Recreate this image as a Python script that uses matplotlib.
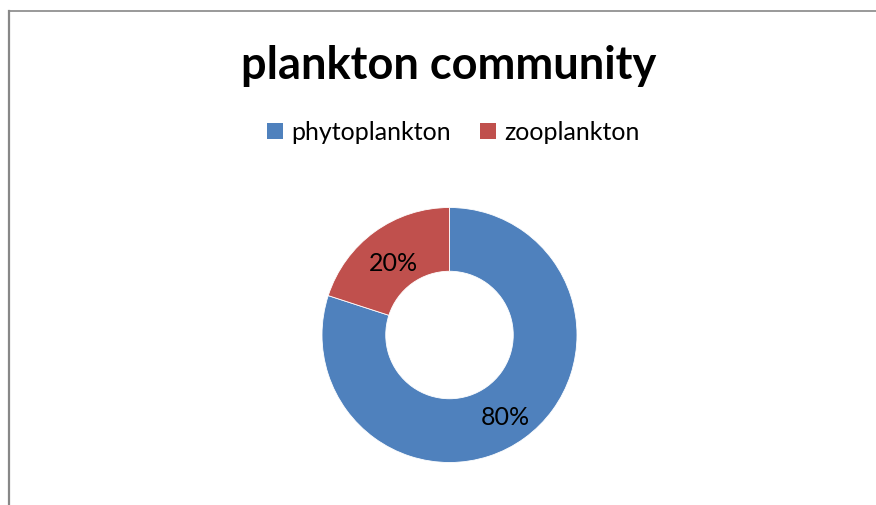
import matplotlib
matplotlib.use("Agg")
import matplotlib.pyplot as plt
from matplotlib.patches import Patch
from matplotlib.lines import Line2D

labels = ["phytoplankton", "zooplankton"]
shares = [80, 20]
colors = ["#4F81BD", "#C0504D"]
title = "plankton community"

plt.rcParams['font.family'] = ['Lato', 'DejaVu Sans']

W, H = 876, 506
fig = plt.figure(figsize=(W / 100, H / 100), dpi=100)
fig.patch.set_facecolor("white")

# chart area border (only top and left edges visible)
fig.add_artist(Line2D([8.5 / W, 1], [1 - 11.5 / H] * 2, color="#878787", lw=1.2))
fig.add_artist(Line2D([8.5 / W] * 2, [0, 1 - 11.5 / H], color="#878787", lw=1.6))

cx, cy, r = 449.5, 336, 127.5
ax = fig.add_axes([(cx - r) / W, (H - cy - r) / H, 2 * r / W, 2 * r / H])
wedges, texts, autotexts = ax.pie(
    shares, colors=colors, startangle=90, counterclock=False,
    autopct="%d%%", pctdistance=0.75, radius=1,
    wedgeprops=dict(width=0.5, edgecolor="white", linewidth=0.6),
    textprops=dict(fontsize=18, color="black"))
# nudge labels slightly down, as in the original
for t in autotexts:
    x, y = t.get_position()
    t.set_position((x, y - 0.035))
ax.set_xlim(-1, 1)
ax.set_ylim(-1, 1)
ax.axis("off")

fig.text(449 / W, 1 - 66 / H, title, ha="center", va="center",
         fontsize=32.5, fontweight="bold")

handles = [Patch(facecolor=c, edgecolor="none") for c in colors]
fig.legend(handles, labels, loc="center", bbox_to_anchor=(453.5 / W, 1 - 133 / H),
           ncol=2, frameon=False, fontsize=18, handlelength=0.62,
           handleheight=0.62, handletextpad=0.35, columnspacing=1.15)

fig.savefig("out.png", dpi=100)
